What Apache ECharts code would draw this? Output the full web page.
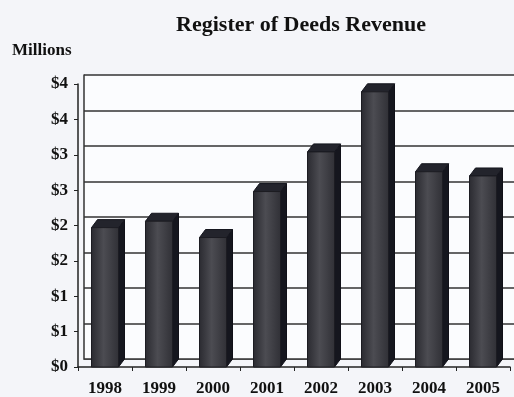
<!DOCTYPE html>
<html>
<head>
<meta charset="utf-8">
<script src="https://cdn.jsdelivr.net/npm/echarts@6/dist/echarts.min.js"></script>
<style>
html,body{margin:0;padding:0;background:#f4f5f9;}
#chart{width:514px;height:397px;}
</style>
</head>
<body>
<div id="chart"></div>
<script>
var titleText = 'Register of Deeds Revenue';
var unitText = 'Millions';
var categories = ['1998','1999','2000','2001','2002','2003','2004','2005'];
var revenue = [1.97, 2.06, 1.83, 2.48, 3.04, 3.89, 2.76, 2.70];
var yTickLabels = ['$0','$1','$1','$2','$2','$3','$3','$4','$4'];

var FONT = '"Liberation Serif", "Times New Roman", serif';
var chart = echarts.init(document.getElementById('chart'));

function renderBar(params, api) {
  var xi = api.value(0), v = api.value(1);
  var base = api.coord([xi, 0]);
  var top = api.coord([xi, v]);
  var bw = api.size([1, 0])[0] * 0.5;
  var l = base[0] - bw / 2, r = base[0] + bw / 2;
  var dx = 6, dy = 8;
  return {
    type: 'group',
    children: [
      {type: 'polygon', shape: {points: [[r, top[1]], [r + dx, top[1] - dy], [r + dx, base[1] - dy], [r, base[1]]]},
       style: {fill: '#15161e', stroke: '#101018', lineWidth: 1}},
      {type: 'polygon', shape: {points: [[l, top[1]], [l + dx, top[1] - dy], [r + dx, top[1] - dy], [r, top[1]]]},
       style: {fill: '#23242c', stroke: '#15161e', lineWidth: 1}},
      {type: 'rect', shape: {x: l, y: top[1], width: bw, height: base[1] - top[1]},
       style: {fill: new echarts.graphic.LinearGradient(0, 0, 1, 0, [
         {offset: 0, color: '#2a2a30'}, {offset: 0.45, color: '#4c4c52'}, {offset: 1, color: '#303036'}]),
         stroke: '#1c1c22', lineWidth: 1}}
    ]
  };
}

chart.setOption({
  backgroundColor: '#f4f5f9',
  animation: false,
  title: [
    {text: titleText, left: 296, top: 9, textAlign: 'center',
     textStyle: {fontFamily: FONT, fontWeight: 'bold', fontSize: 22, color: '#111'}},
    {text: unitText, left: 7, top: 37,
     textStyle: {fontFamily: FONT, fontWeight: 'bold', fontSize: 17, color: '#111'}}
  ],
  grid: [
    {left: 84, top: 75, width: 432, height: 284, show: true, backgroundColor: '#fbfcfe', borderWidth: 0},
    {left: 78, top: 84, width: 432, height: 283}
  ],
  xAxis: [
    {gridIndex: 0, type: 'category', data: categories, axisLabel: {show: false}, axisTick: {show: false},
     axisLine: {show: true, lineStyle: {color: '#444', width: 1}}},
    {gridIndex: 1, type: 'category', data: categories,
     axisLine: {show: true, lineStyle: {color: '#222', width: 1.5}},
     axisTick: {show: true, length: 4, lineStyle: {color: '#222'}},
     axisLabel: {margin: 13, fontFamily: FONT, fontWeight: 'bold', fontSize: 17, color: '#111'}}
  ],
  yAxis: [
    {gridIndex: 0, type: 'value', min: 0, max: 4, interval: 0.5,
     axisLabel: {show: false}, axisTick: {show: false},
     axisLine: {show: true, lineStyle: {color: '#333', width: 1.5}},
     splitLine: {show: true, lineStyle: {color: '#333', width: 1.5}}},
    {gridIndex: 1, type: 'value', min: 0, max: 4, interval: 0.5,
     axisLine: {show: true, lineStyle: {color: '#222', width: 1.5}},
     axisTick: {show: true, length: 4, lineStyle: {color: '#222'}},
     splitLine: {show: false},
     axisLabel: {margin: 10, fontFamily: FONT, fontWeight: 'bold', fontSize: 17, color: '#111',
       formatter: function (val) { return yTickLabels[Math.round(val / 0.5)]; }}}
  ],
  series: [{
    type: 'custom',
    xAxisIndex: 1, yAxisIndex: 1,
    renderItem: renderBar,
    clip: false,
    data: revenue.map(function (v, i) { return [i, v]; })
  }]
});
</script>
</body>
</html>
